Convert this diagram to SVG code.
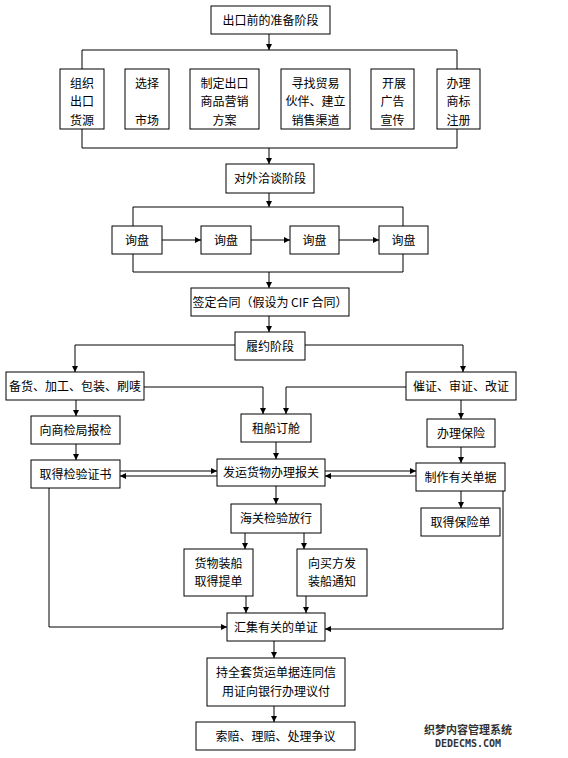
<svg xmlns="http://www.w3.org/2000/svg" width="568" height="758" viewBox="0 0 568 758">
<defs>
<marker id="ah" markerWidth="6" markerHeight="6" refX="6" refY="3" orient="auto" markerUnits="userSpaceOnUse">
<path d="M0,0 L6,3 L0,6 z" fill="#000"/>
</marker>
<style>
rect{fill:#fff;stroke:#000;stroke-width:1}
text{font-family:"Noto Sans CJK SC","Noto Sans",sans-serif;font-size:12px;text-anchor:middle;fill:#000}
.c path{fill:none;stroke:#000;stroke-width:1}
.a{marker-end:url(#ah)}
.wm{font-size:11px;font-weight:bold;fill:#333}
</style>
</defs>
<rect x="0" y="0" width="568" height="758" style="stroke:none"/>
<g id="connectors" class="c">
<path class="a" d="M269,34 V50"/>
<path d="M82,69 V50 H457 V69"/>
<path d="M82,129 V148 H457 V129"/>
<path class="a" d="M269,148 V164"/>
<path class="a" d="M269,193 V207"/>
<path d="M133,226 V207 H403 V226"/>
<path class="a" d="M162,240 H201"/>
<path class="a" d="M251,240 H290"/>
<path class="a" d="M339,240 H379"/>
<path d="M133,254 V272 H403 V254"/>
<path class="a" d="M269,272 V288"/>
<path class="a" d="M269,316 V332"/>
<path class="a" d="M235,345 H75 V372"/>
<path class="a" d="M305,345 H463 V372"/>
<path class="a" d="M144,387 H263 V414"/>
<path class="a" d="M406,387 H286 V414"/>
<path class="a" d="M76,400 V416"/>
<path class="a" d="M76,444 V460"/>
<path class="a" d="M276,442 V459"/>
<path class="a" d="M120,471 H217"/>
<path class="a" d="M217,476 H120"/>
<path class="a" d="M325,471 H416"/>
<path class="a" d="M416,476 H325"/>
<path class="a" d="M461,400 V419"/>
<path class="a" d="M461,447 V463"/>
<path class="a" d="M461,491 V508"/>
<path class="a" d="M276,486 V504"/>
<path class="a" d="M245,533 V549"/>
<path class="a" d="M304,533 V549"/>
<path class="a" d="M246,596 V613"/>
<path class="a" d="M306,596 V613"/>
<path class="a" d="M49,488 V627 H227"/>
<path class="a" d="M503,491 V629 H325"/>
<path class="a" d="M274,641 V658"/>
<path class="a" d="M274,706 V722"/>
</g>
<g id="n1"><rect x="211" y="6" width="119" height="28"/><text x="270.5" y="24.5">出口前的准备阶段</text></g>
<g id="n2"><rect x="60" y="69" width="44" height="60"/><text x="82" y="87.5">组织</text><text x="82" y="106">出口</text><text x="82" y="124.5">货源</text></g>
<g id="n3"><rect x="125" y="69" width="44" height="60"/><text x="147" y="87.5">选择</text><text x="147" y="124.5">市场</text></g>
<g id="n4"><rect x="190" y="69" width="69" height="60"/><text x="224.5" y="87.5">制定出口</text><text x="224.5" y="106">商品营销</text><text x="224.5" y="124.5">方案</text></g>
<g id="n5"><rect x="281" y="69" width="69" height="60"/><text x="315.5" y="87.5">寻找贸易</text><text x="315.5" y="106">伙伴、建立</text><text x="315.5" y="124.5">销售渠道</text></g>
<g id="n6"><rect x="371" y="69" width="43" height="60"/><text x="394" y="87.5">开展</text><text x="392.5" y="106">广告</text><text x="392.5" y="124.5">宣传</text></g>
<g id="n7"><rect x="437" y="69" width="43" height="60"/><text x="458.5" y="87.5">办理</text><text x="458.5" y="106">商标</text><text x="458.5" y="124.5">注册</text></g>
<g id="n8"><rect x="226" y="164" width="88" height="29"/><text x="270" y="183">对外洽谈阶段</text></g>
<g id="n9"><rect x="112" y="226" width="50" height="28"/><text x="137" y="244.5">询盘</text></g>
<g id="n10"><rect x="201" y="226" width="50" height="28"/><text x="226" y="244.5">询盘</text></g>
<g id="n11"><rect x="290" y="226" width="49" height="28"/><text x="314.5" y="244.5">询盘</text></g>
<g id="n12"><rect x="379" y="226" width="49" height="28"/><text x="403.5" y="244.5">询盘</text></g>
<g id="n13"><rect x="191" y="288" width="158" height="28"/><text x="270" y="306.5">签定合同（假设为 CIF 合同）</text></g>
<g id="n14"><rect x="235" y="332" width="70" height="28"/><text x="270" y="350.5">履约阶段</text></g>
<g id="n15"><rect x="6" y="372" width="138" height="28"/><text x="75" y="390.5">备货、加工、包装、刷唛</text></g>
<g id="n16"><rect x="406" y="372" width="110" height="28"/><text x="461" y="390.5">催证、审证、改证</text></g>
<g id="n17"><rect x="31" y="416" width="89" height="28"/><text x="75.5" y="434.5">向商检局报检</text></g>
<g id="n18"><rect x="241" y="414" width="70" height="28"/><text x="276" y="432.5">租船订舱</text></g>
<g id="n19"><rect x="427" y="419" width="68" height="28"/><text x="461" y="437.5">办理保险</text></g>
<g id="n20"><rect x="31" y="460" width="89" height="28"/><text x="75.5" y="478.5">取得检验证书</text></g>
<g id="n21"><rect x="217" y="459" width="108" height="27"/><text x="271" y="477">发运货物办理报关</text></g>
<g id="n22"><rect x="416" y="463" width="89" height="28"/><text x="460.5" y="481.5">制作有关单据</text></g>
<g id="n23"><rect x="231" y="504" width="90" height="29"/><text x="276" y="523">海关检验放行</text></g>
<g id="n24"><rect x="421" y="508" width="79" height="28"/><text x="460.5" y="526.5">取得保险单</text></g>
<g id="n25"><rect x="184" y="549" width="69" height="47"/><text x="218.5" y="568">货物装船</text><text x="218.5" y="586">取得提单</text></g>
<g id="n26"><rect x="297" y="549" width="70" height="47"/><text x="332" y="568">向买方发</text><text x="332" y="586">装船通知</text></g>
<g id="n27"><rect x="227" y="613" width="98" height="28"/><text x="276" y="631.5">汇集有关的单证</text></g>
<g id="n28"><rect x="207" y="658" width="138" height="48"/><text x="276" y="677">持全套货运单据连同信</text><text x="276" y="696">用证向银行办理议付</text></g>
<g id="n29"><rect x="196" y="722" width="159" height="28"/><text x="275.5" y="740.5">索赔、理赔、处理争议</text></g>
<g id="watermark"><text class="wm" x="468" y="734">织梦内容管理系统</text><text class="wm" x="468" y="747" style="font-family:'DejaVu Sans Mono',monospace;font-size:10px">DEDECMS.COM</text></g>
</svg>
